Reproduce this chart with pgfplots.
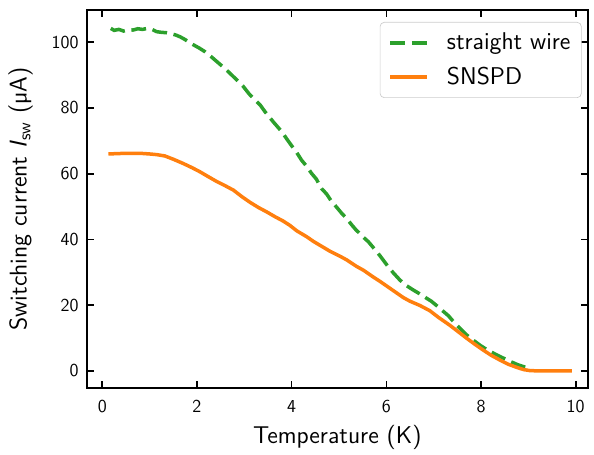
\documentclass[border=0pt]{standalone}
\usepackage{pgfplots}
\pgfplotsset{compat=1.18}
\definecolor{mplgreen}{HTML}{2CA02C}
\definecolor{mplorange}{HTML}{FF7F0E}
\newcommand{\tickfont}{\fontsize{11}{13}\selectfont\sffamily}
\newcommand{\labfont}{\fontsize{14.6}{17.5}\selectfont\sffamily}
\begin{document}
\begin{tikzpicture}
\begin{axis}[
  scale only axis,
  width=300.8bp, height=226.8bp,
  xmin=-0.33, xmax=10.26,
  ymin=-5.2, ymax=109.8,
  xtick={0,2,...,10}, ytick={0,20,...,100},
  tick align=inside, tick pos=both,
  xticklabel pos=bottom, yticklabel pos=left,
  major tick length=4.2bp,
  every tick/.style={black, line width=1bp},
  axis line style={line width=1bp},
  /pgf/number format/assume math mode=true,
  ticklabel style={font=\tickfont},
  xticklabel style={anchor=base, yshift=-14.4bp},
  yticklabel style={anchor=east, xshift=-1.4bp},
  xlabel={Temperature (K)},
  ylabel={Switching current \textit{I}\textsubscript{sw} (µA)},
  label style={font=\labfont},
  xlabel style={at={(axis description cs:0.5,0)}, anchor=base, yshift=-33bp},
  ylabel style={at={(axis description cs:-0.1316,0.5)}, anchor=center, rotate=0},
  legend style={at={(axis description cs:1,1)}, anchor=north east,
    xshift=-3.8bp, yshift=-7.2bp, draw=black!20, rounded corners=2.5bp,
    fill=white, fill opacity=0.8, text opacity=1, font=\labfont,
    inner xsep=5bp, inner ysep=5.0bp, row sep=5.7bp, column sep=9.5bp,
    nodes={inner sep=1.5bp}},
  legend cell align=left,
  legend image code/.code={\draw[#1] (0bp,0bp) -- (22bp,0bp);},
]
\addplot[mplgreen, line width=2.1bp, dash pattern=on 9bp off 4bp] coordinates {
(0.18,104.2)(0.25,103.6)(0.35,103.9)(0.45,103.4)(0.55,103.8)(0.65,103.7)(0.75,104.1)(0.85,103.9)
(0.95,104.2)(1.05,103.9)(1.15,103.2)(1.25,103.0)(1.35,102.9)(1.45,102.6)(1.55,102.2)(1.65,101.6)
(1.75,100.8)(1.85,99.8)(1.95,99.0)(2.05,98.2)(2.17,97.1)(2.30,95.6)(2.42,94.1)(2.55,92.5)
(2.70,90.5)(2.85,88.4)(2.98,86.5)(3.10,84.3)(3.23,82.4)(3.34,80.8)(3.44,78.8)(3.52,77.4)
(3.61,75.8)(3.70,74.3)(3.79,72.8)(3.90,70.5)(4.00,68.5)(4.10,66.6)(4.21,64.1)(4.32,62.2)
(4.42,60.1)(4.52,58.4)(4.63,55.5)(4.74,53.8)(4.85,51.4)(4.95,49.8)(5.06,47.9)(5.16,46.4)
(5.27,44.4)(5.36,42.9)(5.44,41.8)(5.52,40.6)(5.62,39.3)(5.72,37.6)(5.83,35.7)(5.93,33.8)
(6.04,31.7)(6.15,29.8)(6.29,27.6)(6.43,25.9)(6.57,24.6)(6.70,23.5)(6.84,22.2)(6.95,21.2)
(7.06,19.9)(7.18,18.4)(7.31,16.8)(7.43,14.8)(7.56,12.9)(7.70,10.9)(7.84,9.3)(7.98,7.8)
(8.12,6.5)(8.30,5.1)(8.47,3.9)(8.63,2.8)(8.79,1.8)(8.90,1.3)(8.97,1.0)
};
\addlegendentry{straight wire}
\addplot[mplorange, line width=2.1bp] coordinates {
(0.13,66.0)(0.3,66.1)(0.5,66.2)(0.8,66.2)(1.0,66.0)(1.15,65.8)(1.32,65.4)(1.5,64.4)
(1.71,63.1)(1.9,61.8)(2.06,60.6)(2.25,59.0)(2.42,57.6)(2.6,56.3)(2.77,55.0)(2.95,53.0)
(3.12,51.3)(3.30,49.7)(3.47,48.4)(3.65,46.9)(3.82,45.6)(3.96,44.3)(4.11,42.6)(4.32,40.8)
(4.46,39.4)(4.67,37.6)(4.81,36.4)(5.02,34.9)(5.16,33.8)(5.37,31.8)(5.52,30.6)(5.72,28.6)
(5.87,27.2)(6.08,25.1)(6.22,23.7)(6.36,22.3)(6.50,21.2)(6.71,19.9)(6.92,18.3)(7.10,16.3)
(7.34,13.9)(7.52,11.9)(7.70,9.9)(7.88,8.0)(8.05,6.3)(8.22,4.7)(8.40,3.3)(8.58,2.0)
(8.75,1.1)(8.90,0.4)(9.03,0.1)(9.2,0.0)(9.4,0.0)(9.6,0.0)(9.92,0.0)
};
\addlegendentry{SNSPD}
\end{axis}
\path (-52bp,-36.6bp) rectangle (304.4bp,232.8bp);
\end{tikzpicture}
\end{document}
